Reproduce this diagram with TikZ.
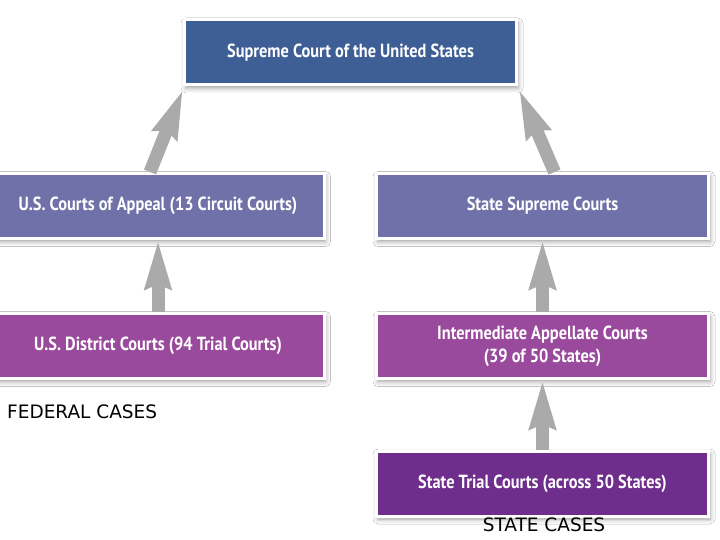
\documentclass[tikz,border=0pt]{standalone}
\usepackage{fontspec}
\newfontfamily\boxfont[FakeStretch=0.86]{PT Sans}
\newfontfamily\labfont{DejaVu Sans}
\usetikzlibrary{shadows.blur,arrows.meta,calc}
\definecolor{supblue}{RGB}{62,94,150}
\definecolor{appblue}{RGB}{112,113,168}
\definecolor{distpurple}{RGB}{154,74,156}
\definecolor{trialpurple}{RGB}{111,45,140}
\definecolor{arrowgray}{RGB}{170,170,170}
\begin{document}
\begin{tikzpicture}[x=1pt,y=-1pt,
  court/.style={draw=white, line width=3pt, minimum width=332pt, minimum height=65pt,
    text=white, align=center, inner sep=0pt,
    font=\boxfont\bfseries\fontsize{19}{23}\selectfont,
    blur shadow={shadow xshift=1.5pt, shadow yshift=-3pt, shadow blur radius=5pt, shadow opacity=40}},
  upflow/.style={draw=arrowgray, line width=13pt,
    -{Stealth[width=25pt,length=48pt,inset=4pt]}},
  caselabel/.style={font=\labfont\fontsize{18.5}{22}\selectfont, text=black, inner sep=0pt}
]
\useasboundingbox[fill=white] (0,0) rectangle (720,540);

\node[court, fill=supblue] (sup) at (350.5,52.5) {Supreme Court of the United States};
\node[court, fill=appblue] (app) at (158,206) {U.S. Courts of Appeal (13 Circuit Courts)};
\node[court, fill=appblue] (ss) at (542.5,206) {State Supreme Courts};
\node[court, fill=distpurple] (dist) at (158,346) {U.S. District Courts (94 Trial Courts)};
\node[court, fill=distpurple] (inter) at (542.5,346) {Intermediate Appellate Courts\\(39 of 50 States)};
\node[court, fill=trialpurple] (trial) at (542.5,483.5) {State Trial Courts (across 50 States)};

\node[caselabel, anchor=west] (fed) at (7,412) {FEDERAL CASES};
\node[caselabel] (st) at (544,525) {STATE CASES};

\draw[upflow] ($(app.north)+(-8,0)$) -- ($(sup.south west)+(0,3)$);
\draw[upflow] ($(ss.north)+(12,0)$) -- ($(sup.south east)+(1,3)$);
\draw[upflow] (dist.north) -- (app.south);
\draw[upflow] (inter.north) -- (ss.south);
\draw[upflow] (trial.north) -- (inter.south);
\end{tikzpicture}
\end{document}
